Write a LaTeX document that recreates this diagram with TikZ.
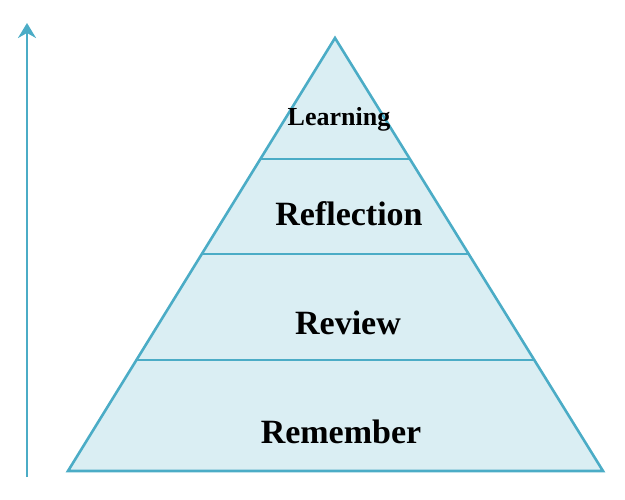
\documentclass[tikz,border=0pt]{standalone}
\usepackage{fontspec}
\setmainfont{Liberation Serif}
\usetikzlibrary{calc,arrows.meta}

\definecolor{edgeblue}{HTML}{4BACC6}
\definecolor{fillblue}{HTML}{DAEEF3}

\begin{document}
\begin{tikzpicture}[x=1pt,y=-1pt]
\tikzstyle{layer}=[draw=edgeblue, line width=2.6pt, line join=miter]
\tikzstyle{level}=[font=\bfseries\fontsize{34}{40}\selectfont, inner sep=0pt]
\tikzstyle{connect}=[-{Stealth[length=15pt,width=18pt,inset=5pt]}, draw=edgeblue, line width=2.8pt]
	\useasboundingbox (0,0) rectangle (625,500);
	\coordinate (apex) at (335,38);
	\coordinate (bl) at (68,471);
	\coordinate (br) at (603,471);
	\filldraw[layer, fill=fillblue] (apex) -- (bl) -- (br) -- cycle;
	\draw[layer] ($(apex)!0.2794!(bl)$) -- ($(apex)!0.2794!(br)$);
	\draw[layer] ($(apex)!0.4988!(bl)$) -- ($(apex)!0.4988!(br)$);
	\draw[layer] ($(apex)!0.7436!(bl)$) -- ($(apex)!0.7436!(br)$);
	\node[level, font=\bfseries\fontsize{26}{30}\selectfont] (learning) at (339,119) {Learning};
	\node[level] (reflection) at (349,214) {Reflection};
	\node[level] (review) at (348,323) {Review};
	\node[level] (remember) at (341,432) {Remember};
	\coordinate (low) at (27,477);
	\coordinate (high) at (27,23);
	\draw[connect] (low) -- (high);
\end{tikzpicture}
\end{document}
